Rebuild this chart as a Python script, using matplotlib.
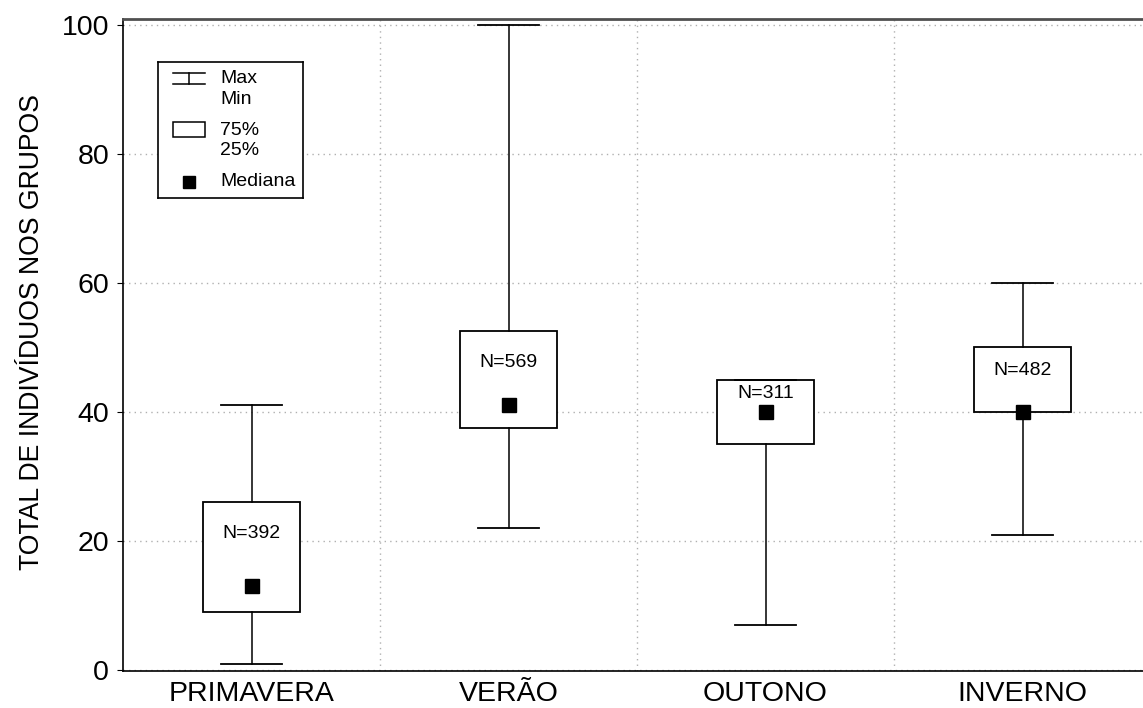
import matplotlib
matplotlib.use("Agg")
import matplotlib.pyplot as plt
from matplotlib.patches import Rectangle

plt.rcParams["font.family"] = ["Liberation Sans", "DejaVu Sans"]

# Data
seasons = ["PRIMAVERA", "VERÃO", "OUTONO", "INVERNO"]
maxima = [41, 100, 45, 60]
q3 = [26, 52.5, 45, 50]
medians = [13, 41, 40, 40]
q1 = [9, 37.5, 35, 40]
minima = [1, 22, 7, 21]
n_counts = [392, 569, 311, 482]

y_ticks = [0, 20, 40, 60, 80, 100]


def main():
    fig = plt.figure(figsize=(11.43, 7.08), dpi=100)
    ax = fig.add_axes([123 / 1143, 1 - 671 / 708, 1028 / 1143, 652 / 708])

    pos = list(range(1, len(seasons) + 1))
    stats = []
    for i, s in enumerate(seasons):
        stats.append(dict(label=s, whislo=minima[i], q1=q1[i], med=medians[i],
                          q3=q3[i], whishi=maxima[i], fliers=[]))

    ax.bxp(stats, positions=pos, widths=0.38, capwidths=0.24, showfliers=False,
           patch_artist=True,
           boxprops=dict(facecolor="white", edgecolor="black", linewidth=1.3),
           whiskerprops=dict(color="black", linewidth=1.1),
           capprops=dict(color="black", linewidth=1.3),
           medianprops=dict(linestyle="none"),
           zorder=3)
    ax.plot(pos, medians, linestyle="none", marker="s", markersize=9.5,
            color="black", zorder=5)

    # N labels inside boxes (offset below the box top)
    label_offset = [4.8, 4.9, 2.2, 3.5]
    for i, n in enumerate(n_counts):
        ax.text(pos[i], q3[i] - label_offset[i], f"N={n}", ha="center",
                va="center", fontsize=14, zorder=6)

    ax.set_xlim(0.5, 4.5)
    ax.set_ylim(-0.15, 100.9)
    ax.set_yticks(y_ticks)
    ax.set_xticks(pos)
    ax.set_xticklabels(seasons)
    ax.set_xticks([1.5, 2.5, 3.5], minor=True)
    ax.tick_params(axis="y", labelsize=20.5, length=4, width=0.8, pad=6)
    ax.tick_params(axis="x", which="major", labelsize=20.5, length=0, pad=7)
    ax.tick_params(axis="x", which="minor", length=0)
    ax.grid(axis="y", which="major", linestyle=(0, (1, 3)), color="#b0b0b0",
            linewidth=1.0, zorder=0)
    ax.grid(axis="x", which="minor", linestyle=(0, (1, 3)), color="#b0b0b0",
            linewidth=1.0, zorder=0)
    ax.set_ylabel("TOTAL DE INDIVÍDUOS NOS GRUPOS", fontsize=19.2)
    ax.yaxis.set_label_coords(-0.076, 0.52)

    for side in ["left", "bottom"]:
        ax.spines[side].set_color("black")
        ax.spines[side].set_linewidth(1.2)
    ax.spines["top"].set_color("#505050")
    ax.spines["top"].set_linewidth(2.0)
    ax.spines["right"].set_visible(False)

    # Legend drawn by hand in pixel-like coordinates
    lg = fig.add_axes([158 / 1143, 1 - 198 / 708, 145 / 1143, 136 / 708])
    lg.set_xlim(0, 145)
    lg.set_ylim(136, 0)
    lg.set_xticks([])
    lg.set_yticks([])
    for sp in lg.spines.values():
        sp.set_linewidth(1.2)
        sp.set_color("black")
    lg.plot([15, 47], [11, 11], color="black", lw=1.1)
    lg.plot([15, 47], [22, 22], color="black", lw=1.1)
    lg.plot([31, 31], [11, 22], color="black", lw=1.1)
    lg.text(62, 17, "Max", fontsize=14, va="center")
    lg.text(62, 38, "Min", fontsize=14, va="center")
    lg.add_patch(Rectangle((15, 60), 32, 15, facecolor="white",
                           edgecolor="black", lw=1.1))
    lg.text(62, 69, "75%", fontsize=14, va="center")
    lg.text(62, 89, "25%", fontsize=14, va="center")
    lg.plot([31], [120], marker="s", markersize=9, color="black")
    lg.text(62, 120, "Mediana", fontsize=14, va="center")

    fig.savefig("out.png", dpi=100)
    plt.close(fig)


if __name__ == "__main__":
    main()
